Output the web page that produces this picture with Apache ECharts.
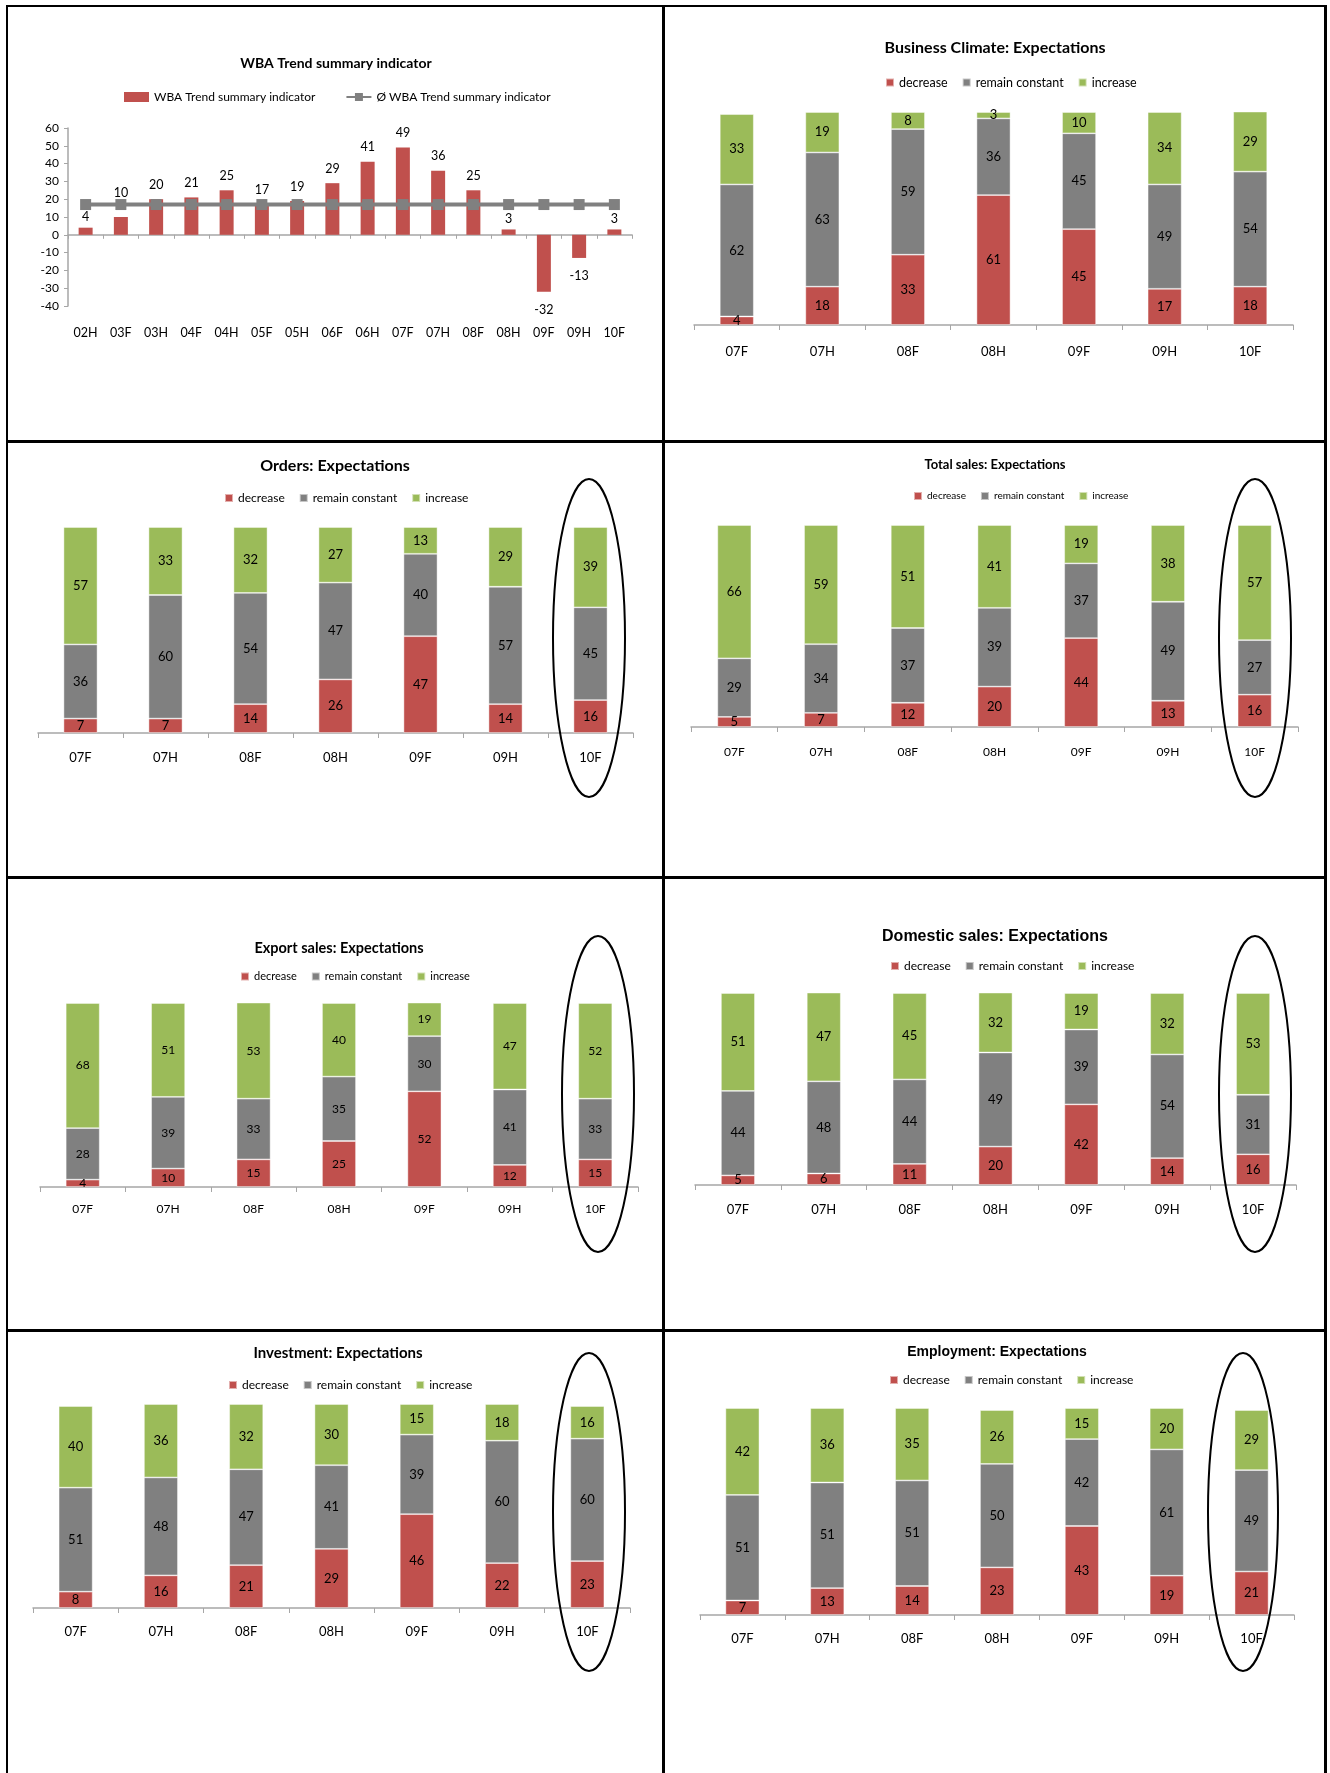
<!DOCTYPE html>
<html>
<head>
<meta charset="utf-8">
<title>WBA Trend survey</title>
<script src="https://cdn.jsdelivr.net/npm/echarts@6/dist/echarts.min.js"></script>
<style>
  html, body { margin: 0; padding: 0; background: #fff; }
  #page { position: relative; width: 1330px; height: 1773px; overflow: hidden; }
  #chart { position: absolute; left: 0; top: 0; width: 1330px; height: 1773px; }
  .rule { position: absolute; background: #000; }
</style>
</head>
<body>
<div id="page">
  <div id="chart"></div>
  <!-- panel frame -->
  <div class="rule" style="left:6px;top:5px;width:1321px;height:2px"></div>
  <div class="rule" style="left:6px;top:5px;width:2px;height:1768px"></div>
  <div class="rule" style="left:1324px;top:5px;width:3px;height:1768px"></div>
  <div class="rule" style="left:662px;top:5px;width:3px;height:1768px"></div>
  <div class="rule" style="left:6px;top:440px;width:1321px;height:3px"></div>
  <div class="rule" style="left:6px;top:876px;width:1321px;height:3px"></div>
  <div class="rule" style="left:6px;top:1329px;width:1321px;height:3px"></div>
</div>
<script>
// ---- data ----
const halfYears = ['02H','03F','03H','04F','04H','05F','05H','06F','06H','07F','07H','08F','08H','09F','09H','10F'];
const wbaTrend = [4, 10, 20, 21, 25, 17, 19, 29, 41, 49, 36, 25, 3, -32, -13, 3];
const wbaAverage = [17, 17, 17, 17, 17, 17, 17, 17, 17, 17, 17, 17, 17, 17, 17, 17];
const yTicks = { min: -40, max: 60, step: 10 };

const periods = ['07F','07H','08F','08H','09F','09H','10F'];
const answerNames = ['decrease', 'remain constant', 'increase'];

const climateDecrease = [4, 18, 33, 61, 45, 17, 18];
const climateConstant = [62, 63, 59, 36, 45, 49, 54];
const climateIncrease = [33, 19, 8, 3, 10, 34, 29];

const ordersDecrease = [7, 7, 14, 26, 47, 14, 16];
const ordersConstant = [36, 60, 54, 47, 40, 57, 45];
const ordersIncrease = [57, 33, 32, 27, 13, 29, 39];

const totalSalesDecrease = [5, 7, 12, 20, 44, 13, 16];
const totalSalesConstant = [29, 34, 37, 39, 37, 49, 27];
const totalSalesIncrease = [66, 59, 51, 41, 19, 38, 57];

const exportDecrease = [4, 10, 15, 25, 52, 12, 15];
const exportConstant = [28, 39, 33, 35, 30, 41, 33];
const exportIncrease = [68, 51, 53, 40, 19, 47, 52];

const domesticDecrease = [5, 6, 11, 20, 42, 14, 16];
const domesticConstant = [44, 48, 44, 49, 39, 54, 31];
const domesticIncrease = [51, 47, 45, 32, 19, 32, 53];

const investDecrease = [8, 16, 21, 29, 46, 22, 23];
const investConstant = [51, 48, 47, 41, 39, 60, 60];
const investIncrease = [40, 36, 32, 30, 15, 18, 16];

const employDecrease = [7, 13, 14, 23, 43, 19, 21];
const employConstant = [51, 51, 51, 50, 42, 61, 49];
const employIncrease = [42, 36, 35, 26, 15, 20, 29];

// ---- styling ----
const RED = '#C0504D', GRAY = '#808080', GREEN = '#9BBB59', AXIS = '#A6A6A6';
const SANS = 'Lato, "Open Sans", sans-serif';
const NARROW = '"Liberation Sans Narrow", Lato, sans-serif';
const ARIAL = '"Liberation Sans", Arial, sans-serif';

// label gap above/below the trend bars; a few are nudged to stay clear of the average line
const trendLabelGap = { default: 8, negative: 12, '02H': 4, '03F': 18, '08H': 4, '10F': 4 };

const option = {
  animation: false,
  backgroundColor: '#fff',
  title: [], legend: [], grid: [], xAxis: [], yAxis: [], series: [], graphic: []
};

function addTitle(text, x, y, size, family) {
  option.title.push({
    text: text, left: x, top: y, textAlign: 'center', textVerticalAlign: 'middle', padding: 0,
    textStyle: { fontSize: size, fontWeight: 'bold', fontFamily: family, color: '#000' }
  });
}

// ---- WBA trend summary indicator ----
(function () {
  addTitle('WBA Trend summary indicator', 336, 63, 14, SANS);
  option.legend.push({
    left: 124, top: 91, padding: 0, itemGap: 30, itemWidth: 25, itemHeight: 10,
    textStyle: { fontSize: 12, fontFamily: SANS, color: '#000' },
    data: [
      { name: 'WBA Trend summary indicator', icon: 'rect' },
      { name: 'Ø WBA Trend summary indicator' }
    ]
  });
  const g = option.grid.length;
  option.grid.push({ left: 68, top: 128, width: 564, height: 178 });
  const xa = option.xAxis.length;
  option.xAxis.push({
    type: 'category', gridIndex: g, data: halfYears, position: 'bottom',
    axisLine: { onZero: true, lineStyle: { color: AXIS, width: 1.5 } },
    axisTick: { show: true, length: 4, lineStyle: { color: AXIS } },
    axisLabel: { show: false }
  });
  option.xAxis.push({
    type: 'category', gridIndex: g, data: halfYears, position: 'bottom',
    axisLine: { show: false, onZero: false }, axisTick: { show: false },
    axisLabel: { margin: 20, fontSize: 12.5, fontFamily: SANS, color: '#000' }
  });
  const ya = option.yAxis.length;
  option.yAxis.push({
    type: 'value', gridIndex: g, min: yTicks.min, max: yTicks.max, interval: yTicks.step,
    axisLine: { show: true, lineStyle: { color: AXIS, width: 1.5 } },
    axisTick: { show: true, length: 4, lineStyle: { color: AXIS } },
    splitLine: { show: false },
    axisLabel: { margin: 9, fontSize: 12, fontFamily: SANS, color: '#000' }
  });
  option.series.push({
    name: 'WBA Trend summary indicator', type: 'bar', xAxisIndex: xa, yAxisIndex: ya,
    barWidth: 14, itemStyle: { color: RED },
    data: wbaTrend.map((v, i) => {
      const key = halfYears[i];
      if (v < 0) return { value: v, label: { position: 'bottom', distance: trendLabelGap.negative } };
      const gap = trendLabelGap[key] !== undefined ? trendLabelGap[key] : trendLabelGap.default;
      return { value: v, label: { distance: gap } };
    }),
    label: { show: true, position: 'top', fontSize: 12.5, fontFamily: SANS, color: '#000' }
  });
  option.series.push({
    name: 'Ø WBA Trend summary indicator', type: 'line', xAxisIndex: xa, yAxisIndex: ya,
    data: wbaAverage, symbol: 'rect', symbolSize: 11, z: 5,
    itemStyle: { color: GRAY }, lineStyle: { color: GRAY, width: 4 }
  });
})();

// ---- stacked "expectations" panels ----
function addStacked(p) {
  addTitle(p.title, p.titleX, p.titleY, p.titleSize, p.titleFont);
  option.legend.push({
    left: p.legendX, top: p.legendY - 7, padding: 0, itemGap: 14, itemWidth: 8, itemHeight: 8,
    icon: 'rect',
    textStyle: { fontSize: p.legendSize, fontFamily: p.font, color: '#000' },
    data: answerNames
  });
  const g = option.grid.length;
  option.grid.push({ left: p.left, top: p.top, width: p.right - p.left, height: p.bottom - p.top });
  const xa = option.xAxis.length;
  option.xAxis.push({
    type: 'category', gridIndex: g, data: periods,
    axisLine: { lineStyle: { color: AXIS, width: 1.5 } },
    axisTick: { show: true, length: 5, lineStyle: { color: AXIS } },
    axisLabel: { margin: p.labelMargin, fontSize: p.axisSize, fontFamily: p.font, color: '#000' }
  });
  const ya = option.yAxis.length;
  option.yAxis.push({ type: 'value', gridIndex: g, min: 0, max: 100, show: false, splitLine: { show: false } });
  const colors = [RED, GRAY, GREEN];
  p.values.forEach((vals, i) => {
    option.series.push({
      name: answerNames[i], type: 'bar', stack: 'share' + g, xAxisIndex: xa, yAxisIndex: ya,
      barWidth: p.barWidth, data: vals,
      itemStyle: { color: colors[i], borderColor: 'rgba(255,255,255,0.55)', borderWidth: 0.8 },
      label: { show: true, position: 'inside', fontSize: p.valueSize, fontFamily: p.font, color: '#000' }
    });
  });
  if (p.ring) {
    option.graphic.push({
      type: 'ellipse', z: 100,
      shape: { cx: p.ring[0], cy: p.ring[1], rx: p.ring[2], ry: p.ring[3] },
      style: { fill: null, stroke: '#000', lineWidth: 2 }
    });
  }
}

const base = { font: SANS, titleFont: SANS, titleSize: 16, legendSize: 12, axisSize: 13, valueSize: 13, barWidth: 34 };

addStacked(Object.assign({}, base, {
  title: 'Business Climate: Expectations', titleX: 995, titleY: 48,
  legendX: 885, legendY: 83, legendSize: 12.5,
  left: 694, right: 1293, top: 112, bottom: 325, labelMargin: 20,
  values: [climateDecrease, climateConstant, climateIncrease]
}));

addStacked(Object.assign({}, base, {
  title: 'Orders: Expectations', titleX: 335, titleY: 466,
  legendX: 224, legendY: 499,
  left: 38, right: 633, top: 527, bottom: 733, labelMargin: 18,
  values: [ordersDecrease, ordersConstant, ordersIncrease],
  ring: [589, 638, 36, 159]
}));

addStacked(Object.assign({}, base, {
  title: 'Total sales: Expectations', titleX: 995, titleY: 465, titleSize: 13, titleFont: NARROW,
  font: NARROW, legendSize: 10, axisSize: 12, valueSize: 13,
  legendX: 913, legendY: 498,
  left: 691, right: 1298, top: 525, bottom: 727, labelMargin: 19,
  values: [totalSalesDecrease, totalSalesConstant, totalSalesIncrease],
  ring: [1255, 638, 36, 159]
}));

addStacked(Object.assign({}, base, {
  title: 'Export sales: Expectations', titleX: 339, titleY: 948, titleSize: 14.5,
  legendX: 240, legendY: 978, legendSize: 11, valueSize: 12, axisSize: 12,
  left: 40, right: 638, top: 1003, bottom: 1187, labelMargin: 16,
  values: [exportDecrease, exportConstant, exportIncrease],
  ring: [598, 1094, 36, 158]
}));

addStacked(Object.assign({}, base, {
  title: 'Domestic sales: Expectations', titleX: 995, titleY: 937, titleSize: 16, titleFont: ARIAL,
  legendX: 890, legendY: 967,
  left: 695, right: 1296, top: 993, bottom: 1185, labelMargin: 18,
  values: [domesticDecrease, domesticConstant, domesticIncrease],
  ring: [1255, 1094, 36, 158]
}));

addStacked(Object.assign({}, base, {
  title: 'Investment: Expectations', titleX: 338, titleY: 1353, titleSize: 15,
  legendX: 228, legendY: 1386,
  left: 33, right: 630, top: 1404, bottom: 1608, labelMargin: 17,
  values: [investDecrease, investConstant, investIncrease],
  ring: [589, 1512, 36, 159]
}));

addStacked(Object.assign({}, base, {
  title: 'Employment: Expectations', titleX: 997, titleY: 1352, titleSize: 14, titleFont: ARIAL,
  legendX: 889, legendY: 1381,
  left: 700, right: 1294, top: 1408, bottom: 1615, labelMargin: 17,
  values: [employDecrease, employConstant, employIncrease],
  ring: [1243, 1512, 35, 159]
}));

const chart = echarts.init(document.getElementById('chart'), null, { renderer: 'canvas' });
chart.setOption(option);
</script>
</body>
</html>
